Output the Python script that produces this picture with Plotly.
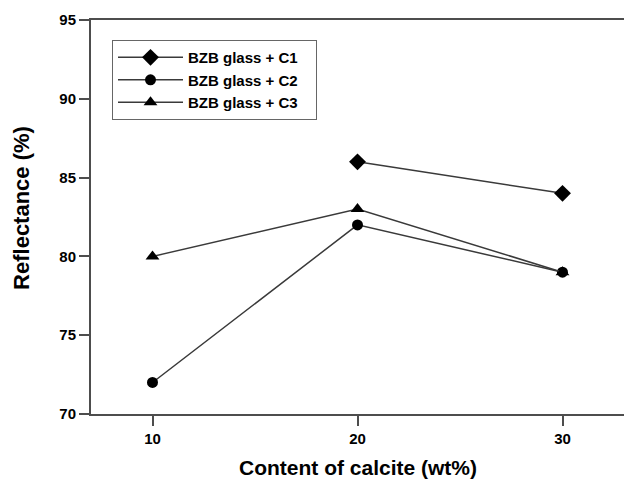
import plotly.graph_objects as go

calcite = [10, 20, 30]
c1_values = [None, 86, 84]
c2_values = [72, 82, 79]
c3_values = [80, 83, 79]
series_names = ["BZB glass + C1", "BZB glass + C2", "BZB glass + C3"]
x_ticks = [10, 20, 30]
y_ticks = [70, 75, 80, 85, 90, 95]

FONT = "Liberation Sans, Arial, sans-serif"
LINE = "#3a3a3a"
AX = "#4d4d4d"
PAD = "\u00a0\u00a0\u00a0"

fig = go.Figure()
for name, vals, sym, size in [
    (series_names[0], c1_values, "diamond", 13),
    (series_names[1], c2_values, "circle", 11),
    (series_names[2], c3_values, "triangle-up", 12),
]:
    fig.add_trace(go.Scatter(
        x=calcite, y=vals, name=name + PAD, mode="lines+markers",
        line=dict(color=LINE, width=1.5),
        marker=dict(symbol=sym, size=size, color="black"),
        connectgaps=False,
    ))

fig.update_layout(
    width=624, height=481,
    margin=dict(l=91, r=0, t=20, b=67),
    paper_bgcolor="white", plot_bgcolor="white",
    font=dict(family=FONT, color="black", size=15, weight="bold"),
    showlegend=True,
    legend=dict(
        x=0.0394, y=0.949, xanchor="left", yanchor="top",
        bgcolor="white", bordercolor="#666666", borderwidth=1,
        font=dict(family=FONT, size=15, color="black", weight="bold"),
        itemwidth=65, tracegroupgap=0,
    ),
    xaxis=dict(
        range=[7, 33], tickvals=x_ticks, ticktext=[str(v) for v in x_ticks],
        showgrid=False, zeroline=False,
        showline=True, linecolor=AX, linewidth=2, mirror=True,
        ticks="outside", ticklen=10, tickwidth=2, tickcolor=AX,
        tickfont=dict(family=FONT, size=15, color="black", weight="bold"),
    ),
    yaxis=dict(
        range=[70, 95], tickvals=y_ticks,
        showgrid=False, zeroline=False,
        showline=True, linecolor=AX, linewidth=2, mirror=False,
        ticks="outside", ticklen=10, tickwidth=2, tickcolor=AX,
        tickfont=dict(family=FONT, size=15, color="black", weight="bold"),
    ),
    annotations=[
        dict(text="Content of calcite (wt%)", xref="paper", yref="paper",
             x=0.5, y=-0.137, xanchor="center", yanchor="middle", showarrow=False,
             font=dict(family=FONT, size=21, color="black", weight="bold")),
        dict(text="Reflectance (%)", xref="paper", yref="paper",
             x=-0.1295, y=0.523, xanchor="center", yanchor="middle", showarrow=False,
             textangle=-90,
             font=dict(family=FONT, size=22, color="black", weight="bold")),
    ],
)

fig.write_html(
    "out.html",
    config={"displayModeBar": False},
    post_script="document.body.style.margin='0';document.body.style.padding='0';",
)
